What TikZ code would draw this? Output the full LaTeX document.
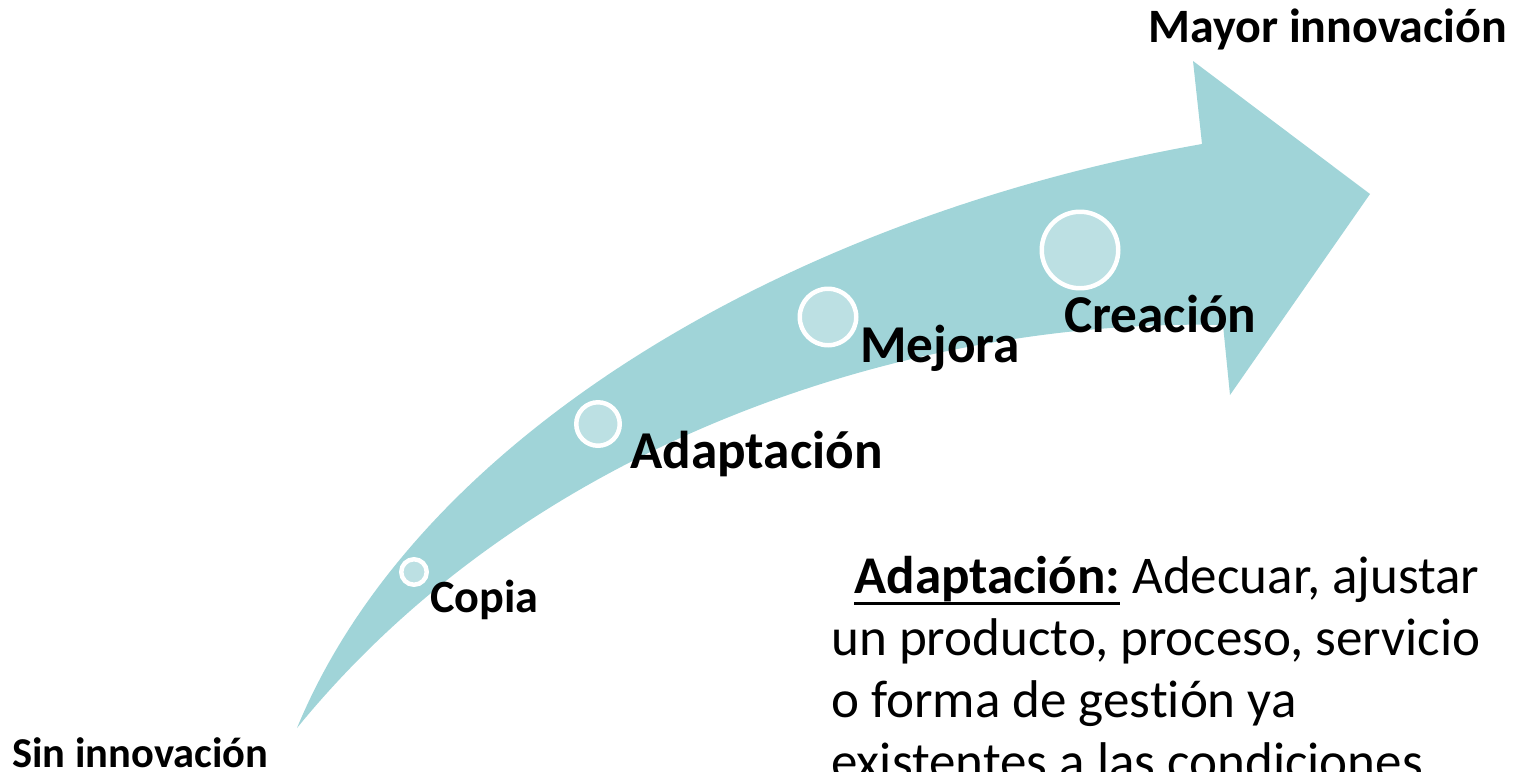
\documentclass[tikz,border=0pt]{standalone}
\usepackage{fontspec}
\setmainfont{Carlito}[Ligatures=NoCommon]
\usepackage{xcolor}
\usetikzlibrary{positioning}
\definecolor{arrowteal}{RGB}{160,212,216}
\definecolor{dotteal}{RGB}{188,224,227}
\newcommand{\ulthick}[1]{\setbox0\hbox{#1}\rlap{\rule[-0.22em]{\wd0}{2.2pt}}\box0\relax}

\begin{document}
\begin{tikzpicture}[
  x=0.02cm, y=-0.02cm,
  dot/.style={circle, draw=white, line width=2.55pt, fill=dotteal, inner sep=0pt},
  stage/.style={anchor=base west, inner sep=0pt,
                font=\fontsize{30.3}{36}\selectfont\bfseries},
  endlbl/.style={anchor=base west, inner sep=0pt, font=\bfseries}
]
  \useasboundingbox (0,0) rectangle (1517,771);
  \clip (0,0) rectangle (1517,771);

  % Curved arrow
  \fill[arrowteal] (297,728) .. controls (420,430) and (800,215) .. (1202,144)
    -- (1193,61) -- (1370,194) -- (1230,395) -- (1223,325)
    .. controls (930,318) and (540,430) .. (297,728)
    -- cycle;

  % Stage dots
  \foreach \n/\x/\y/\r in {copia/414/572/15, adapt/598/424/24,
                           mejora/828/317/30.5, crea/1080/250/40.5} {
    \node[dot, minimum size={(2*\r-4.5)*0.02cm}] (\n) at (\x,\y) {};
  }

  % Stage labels
  \node[stage, font=\fontsize{26.3}{31}\selectfont\bfseries] (copiaLbl) at (430,612) {Copia};
  \node[stage] (adaptLbl) at (630,468) {Adaptación};
  \node[stage] (mejoraLbl) at (860,362) {Mejora};
  \node[stage] (creaLbl) at (1064,332) {Creación};

  % End labels
  \node[endlbl, font=\fontsize{27.3}{32}\selectfont\bfseries] (mayor) at (1148,42) {Mayor innovación};
  \node[endlbl, font=\fontsize{24.2}{29}\selectfont\bfseries] (sin) at (12,767) {Sin innovación};

  % Definition
  \node[anchor=base west, inner sep=0pt, align=left,
        font=\fontsize{30.2}{35.15}\selectfont] (def) at (831,779)
    {\hspace{0.46cm}\ulthick{\textbf{Adaptación:}} Adecuar, ajustar\\
     un producto, proceso, servicio\\
     o forma de gestión ya\\
     existentes a las condiciones};
\end{tikzpicture}
\end{document}
